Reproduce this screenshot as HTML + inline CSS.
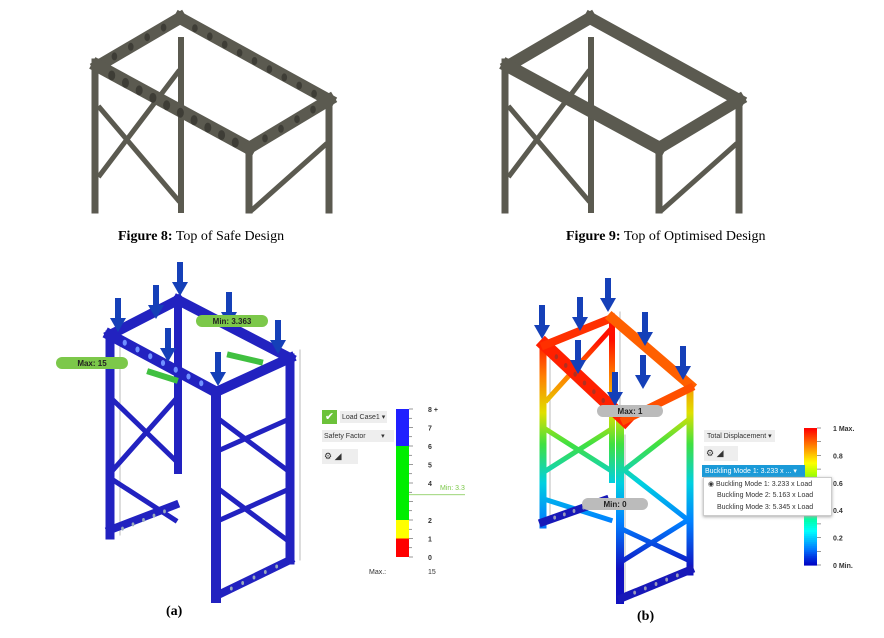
<!DOCTYPE html>
<html><head><meta charset="utf-8"><style>
body{margin:0;background:#fff;}
#root{position:relative;width:884px;height:638px;overflow:hidden;font-family:"Liberation Sans",sans-serif;}
.cap{position:absolute;font-family:"Liberation Serif",serif;font-size:14px;color:#000;white-space:nowrap;}
.t{position:absolute;font-size:7px;color:#333;white-space:nowrap;}
</style></head><body>
<div id="root">
<svg id="svg" width="884" height="638" style="position:absolute;left:0;top:0">
<defs>
<linearGradient id="frameB" gradientUnits="userSpaceOnUse" x1="0" y1="600" x2="0" y2="340">
<stop offset="0" stop-color="#1010c0"/><stop offset="0.12" stop-color="#1010c0"/><stop offset="0.3" stop-color="#0080ff"/><stop offset="0.45" stop-color="#00d0e0"/><stop offset="0.6" stop-color="#40e040"/><stop offset="0.72" stop-color="#e0e000"/><stop offset="0.86" stop-color="#ff8000"/><stop offset="1" stop-color="#ff1000"/>
</linearGradient>
</defs>
<g id="g8"></g>
<g id="g9"></g>
<g id="ga"></g>
<g id="gb"></g>
<g id="legA"></g>
<g id="legB"></g>
</svg>
<div class="cap" style="left:118px;top:229px"><b>Figure 8:</b> Top of Safe Design</div>
<div class="cap" style="left:566px;top:229px"><b>Figure 9:</b> Top of Optimised Design</div>
<div class="cap" style="left:166px;top:604px"><b>(a)</b></div>
<div class="cap" style="left:637px;top:609px"><b>(b)</b></div>

<div style="position:absolute;left:322px;top:410px;width:15px;height:14px;background:#6cc23a;color:#fff;font-size:11px;text-align:center;line-height:14px">✔</div>
<div class="t" style="left:340px;top:411px;background:#eee;padding:2px 2px;font-size:7px">Load Case1 ▾</div>
<div class="t" style="left:322px;top:430px;background:#eee;width:68px;padding:2px 2px">Safety Factor &nbsp;&nbsp;&nbsp;&nbsp;&nbsp;&nbsp;&nbsp;▾</div>
<div class="t" style="left:322px;top:449px;background:#eee;width:32px;padding:2px 2px;font-size:9px">⚙ ◢</div>
<div class="t" style="left:369px;top:569px;font-size:7px">Max.:</div>
<div class="t" style="left:428px;top:569px">15</div>
<div class="t" style="left:440px;top:485px;color:#7cc84a">Min: 3.3</div>

<div class="t" style="left:704px;top:430px;background:#eee;padding:2px 3px">Total Displacement ▾</div>
<div class="t" style="left:704px;top:446px;background:#eee;width:30px;padding:2px 2px;font-size:9px">⚙ ◢</div>
<div class="t" style="left:702px;top:465px;background:#1a9ad8;color:#fff;padding:2px 3px;width:97px">Buckling Mode 1: 3.233 x ... ▾</div>
<div style="position:absolute;left:703px;top:477px;width:127px;height:37px;background:#fff;border:1px solid #ccc;box-shadow:0 1px 3px #aaa">
<div class="t" style="left:4px;top:2px">◉ Buckling Mode 1: 3.233 x Load</div>
<div class="t" style="left:13px;top:14px">Buckling Mode 2: 5.163 x Load</div>
<div class="t" style="left:13px;top:26px">Buckling Mode 3: 5.345 x Load</div>
</div>
</div>
<script>
var NS="http://www.w3.org/2000/svg";
function el(p,tag,a){var e=document.createElementNS(NS,tag);for(var k in a)e.setAttribute(k,a[k]);p.appendChild(e);return e;}
function beam(g,x1,y1,x2,y2,w,c){var l=el(g,'line',{x1:x1,y1:y1,x2:x2,y2:y2,stroke:c,'stroke-width':w,'stroke-linecap':'square'});

return l;}
function holes(g,x1,y1,x2,y2,n,r,c){for(var i=1;i<n;i++){var t=i/n;el(g,'ellipse',{cx:x1+(x2-x1)*t,cy:y1+(y2-y1)*t,rx:r*0.7,ry:r,fill:c});}}

function greyFrame(g,dx,holesOn){
 var c='#5b5a50',d='#3e3d36';
 beam(g,95+dx,62,95+dx,210,7,c);beam(g,181+dx,40,181+dx,210,6,c);
 beam(g,249+dx,145,249+dx,210,7,c);beam(g,329+dx,104,329+dx,210,7,c);
 beam(g,100+dx,108,178+dx,200,5,c);beam(g,178+dx,72,100+dx,175,5,c);
 beam(g,252+dx,210,325+dx,145,5,c);
 beam(g,98+dx,66,180+dx,18,12,c);beam(g,180+dx,18,329+dx,100,12,c);
 beam(g,98+dx,66,249+dx,148,13,c);beam(g,249+dx,148,329+dx,100,12,c);
 if(holesOn){holes(g,98+dx,68,249+dx,150,11,5,d);holes(g,180+dx,20,329+dx,102,10,4,d);holes(g,98+dx,66,180+dx,18,5,4,d);holes(g,249+dx,148,329+dx,100,5,4,d);}
}
greyFrame(document.getElementById('g8'),0,true);
greyFrame(document.getElementById('g9'),410,false);

(function(){var g=document.getElementById('ga'),c='#2222c0',gr='#bbb';
 beam(g,120,330,120,535,1,gr);beam(g,300,350,300,560,1,gr);
 beam(g,110,335,110,535,9,c);beam(g,290,358,290,560,9,c);beam(g,216,392,216,598,10,c);beam(g,178,300,178,470,8,c);
 beam(g,110,335,178,300,10,c);beam(g,178,300,290,358,10,c);beam(g,110,335,216,392,11,c);beam(g,216,392,290,358,10,c);
 beam(g,113,400,175,460,5,c);beam(g,175,400,113,470,5,c);beam(g,113,480,175,520,5,c);beam(g,110,530,175,505,8,c);
 beam(g,220,450,287,420,5,c);beam(g,220,420,287,470,5,c);beam(g,220,520,287,490,5,c);beam(g,220,490,287,540,5,c);beam(g,218,595,290,560,8,c);
 holes(g,112,336,214,390,8,3,'#7090ff');holes(g,112,533,175,507,6,2,'#9ab');holes(g,220,594,288,561,6,2,'#9ab');
 beam(g,150,372,175,380,6,'#40c040');beam(g,230,355,260,362,6,'#40c040');
 var ax=[118,156,180,229,278,218,168];var ay=[298,285,262,292,320,352,328];
 for(var i=0;i<ax.length;i++){var a=el(g,'g',{});
  el(a,'rect',{x:ax[i]-3,y:ay[i],width:6,height:22,fill:'#1540b8'});el(a,'polygon',{points:(ax[i]-8)+','+(ay[i]+20)+' '+(ax[i]+8)+','+(ay[i]+20)+' '+ax[i]+','+(ay[i]+34),fill:'#1540b8'});}
 var p=el(g,'rect',{x:196,y:315,width:72,height:12,rx:6,fill:'#7cc84a'});
 var t=el(g,'text',{x:232,y:324,'font-size':8,'font-weight':'bold','text-anchor':'middle',fill:'#222'});t.textContent='Min: 3.363';
 var p2=el(g,'rect',{x:56,y:357,width:72,height:12,rx:6,fill:'#7cc84a'});
 var t2=el(g,'text',{x:92,y:366,'font-size':8,'font-weight':'bold','text-anchor':'middle',fill:'#222'});t2.textContent='Max: 15';
})();

(function(){var g=document.getElementById('gb'),c='url(#frameB)',gr='#bbb';
 beam(g,550,350,550,520,1,gr);beam(g,620,312,620,440,1,gr);beam(g,625,435,625,600,1,gr);
 beam(g,543,345,543,525,7,c);beam(g,620,420,620,600,8,c);beam(g,690,390,690,572,7,c);beam(g,612,320,612,480,6,c);
 beam(g,547,400,610,330,5,c);beam(g,547,430,610,470,5,c);beam(g,547,470,610,430,5,c);beam(g,547,500,610,520,5,c);
 beam(g,624,470,688,420,5,c);beam(g,624,470,688,520,5,c);beam(g,624,530,688,560,5,c);beam(g,624,560,688,520,5,c);
 beam(g,545,345,625,420,13,'#ff2000');beam(g,545,345,612,318,8,'#ff3000');beam(g,612,318,690,385,10,'#ff6000');beam(g,625,420,690,388,8,'#ff5000');
 beam(g,543,522,605,500,8,'#1818b8');beam(g,622,598,690,570,8,'#1818b8');
 holes(g,547,348,622,418,8,2.5,'#b03020');holes(g,545,521,603,501,6,2,'#99b');holes(g,624,597,688,571,6,2,'#99b');
 var ax=[542,580,608,578,645,643,683,615];var ay=[305,297,278,340,312,355,346,372];
 for(var i=0;i<ax.length;i++){var a=el(g,'g',{});
  el(a,'rect',{x:ax[i]-3,y:ay[i],width:6,height:22,fill:'#1540b8'});el(a,'polygon',{points:(ax[i]-8)+','+(ay[i]+20)+' '+(ax[i]+8)+','+(ay[i]+20)+' '+ax[i]+','+(ay[i]+34),fill:'#1540b8'});}
 var p=el(g,'rect',{x:597,y:405,width:66,height:12,rx:6,fill:'#bbb'});
 var t=el(g,'text',{x:630,y:414,'font-size':8,'font-weight':'bold','text-anchor':'middle',fill:'#222'});t.textContent='Max: 1';
 var p2=el(g,'rect',{x:582,y:498,width:66,height:12,rx:6,fill:'#bbb'});
 var t2=el(g,'text',{x:615,y:507,'font-size':8,'font-weight':'bold','text-anchor':'middle',fill:'#222'});t2.textContent='Min: 0';
})();

var sfBands=[0,1,2,6,8];
var sfColors=['#ff0000','#ffff00','#00ee00','#2020ff'];
var sfTicks=[0,1,2,4,5,6,7,8];
var sfTickLabels=['0','1','2','4','5','6','7','8 +'];
var sfMin=3.363;
var dispTicks=[0,0.2,0.4,0.6,0.8,1];
var dispTickLabels=['0 Min.','0.2','0.4','0.6','0.8','1 Max.'];

(function(){var g=document.getElementById('legA');var y0=557,y1=409,x=396,w=13;
 function sy(v){return y0-(v/8)*(y0-y1);}
 for(var i=0;i<sfColors.length;i++){var r=el(g,'rect',{x:x,y:sy(sfBands[i+1]),width:w,height:sy(sfBands[i])-sy(sfBands[i+1]),fill:sfColors[i]});
  }
 for(var v=0;v<=8;v+=0.5){el(g,'line',{x1:x+w,y1:sy(v),x2:x+w+(v%1?3:4),y2:sy(v),stroke:'#555','stroke-width':0.6});}
 for(var j=0;j<sfTicks.length;j++){var t=el(g,'text',{x:428,y:sy(sfTicks[j])+3,'font-size':7,'font-weight':'bold',fill:'#333'});t.textContent=sfTickLabels[j];
  }
 var m=el(g,'line',{x1:x+w,y1:sy(sfMin),x2:465,y2:sy(sfMin),stroke:'#7cc84a','stroke-width':0.8});
})();
(function(){var g=document.getElementById('legB');var y0=565,y1=428,x=804,w=13;
 function sy(v){return y0-v*(y0-y1);}
 function jet(v){var h=(1-v)*240;return 'hsl('+h+',100%,'+(v<0.12?38+v*100:50)+'%)';}
 for(var k=0;k<69;k++){var v0=k/69,v1=(k+1)/69;
  var r=el(g,'rect',{x:x,y:sy(v1),width:w,height:sy(v0)-sy(v1)+0.6,fill:jet((v0+v1)/2)});
  
  }
 for(var v=0;v<=1.0001;v+=0.1){el(g,'line',{x1:x+w,y1:sy(v),x2:x+w+4,y2:sy(v),stroke:'#555','stroke-width':0.6});}
 for(var j=0;j<dispTicks.length;j++){var t=el(g,'text',{x:833,y:sy(dispTicks[j])+3,'font-size':7,'font-weight':'bold',fill:'#333'});t.textContent=dispTickLabels[j];
  }
})();
</script>
</body></html>
